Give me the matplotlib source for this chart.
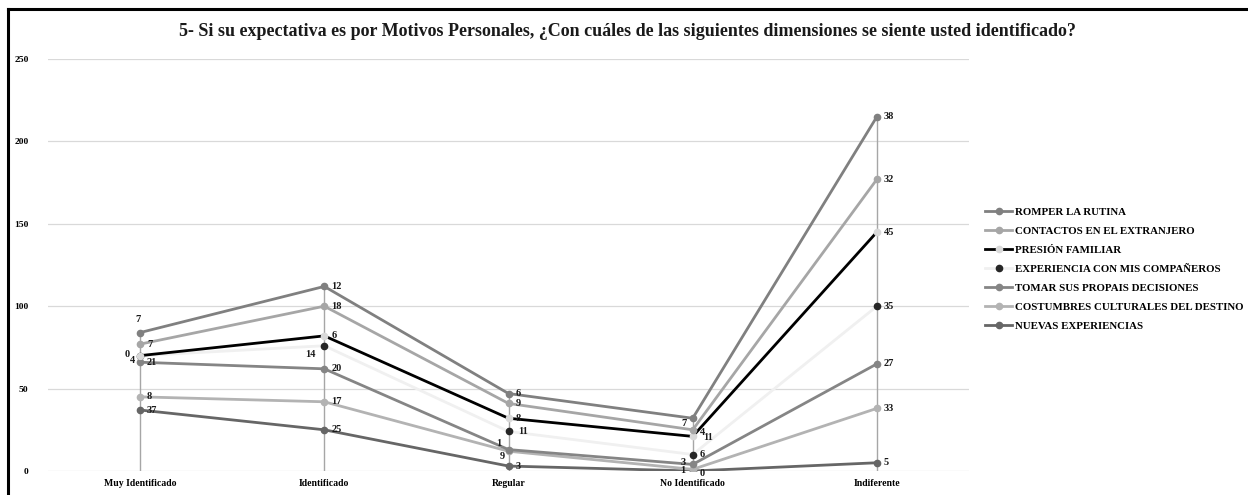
import numpy as np
import matplotlib
matplotlib.use("Agg")
import matplotlib.pyplot as plt
from matplotlib.lines import Line2D

plt.rcParams['font.family'] = ['Liberation Serif', 'DejaVu Serif']
plt.rcParams['font.weight'] = 'bold'

categories = ["Muy Identificado", "Identificado", "Regular", "No Identificado", "Indiferente"]

# stacked order: bottom first
nuevas      = [37, 25, 3, 0, 5]
costumbres  = [8, 17, 9, 1, 33]
tomar       = [21, 20, 1, 3, 27]
experiencia = [4, 14, 11, 6, 35]
presion     = [0, 6, 8, 11, 45]
contactos   = [7, 18, 9, 4, 32]
romper      = [7, 12, 6, 7, 38]

names = ["NUEVAS EXPERIENCIAS", "COSTUMBRES CULTURALES DEL DESTINO",
         "TOMAR SUS PROPAIS DECISIONES", "EXPERIENCIA CON MIS COMPAÑEROS",
         "PRESIÓN FAMILIAR", "CONTACTOS EN EL EXTRANJERO", "ROMPER LA RUTINA"]
series = [nuevas, costumbres, tomar, experiencia, presion, contactos, romper]

title = "5- Si su expectativa es por Motivos Personales, ¿Con cuáles de las siguientes dimensiones se siente usted identificado?"

# styles (line color, marker color)
styles = {
    "ROMPER LA RUTINA": ("#808080", "#808080"),
    "CONTACTOS EN EL EXTRANJERO": ("#a6a6a6", "#a6a6a6"),
    "PRESIÓN FAMILIAR": ("#000000", "#d9d9d9"),
    "EXPERIENCIA CON MIS COMPAÑEROS": ("#f0f0f0", "#262626"),
    "TOMAR SUS PROPAIS DECISIONES": ("#858585", "#858585"),
    "COSTUMBRES CULTURALES DEL DESTINO": ("#b3b3b3", "#b3b3b3"),
    "NUEVAS EXPERIENCIAS": ("#666666", "#666666"),
}

# label offsets in pixels (series index, category index) -> (dx, dy, ha)
default_off = (7, 0, 'left')
label_off = {
    (6, 0): (-2, 13, 'center'),
    (4, 0): (-10, 1, 'right'),
    (3, 0): (-5, -5, 'right'),
    (3, 1): (-9, -9, 'right'),
    (2, 2): (-7, 6, 'right'),
    (1, 2): (-4, -5, 'right'),
    (6, 3): (-6, -5, 'right'),
    (5, 3): (7, -3, 'left'),
    (4, 3): (10, -1, 'left'),
    (2, 3): (-7, 2, 'right'),
    (1, 3): (-7, -1, 'right'),
    (0, 3): (7, -2, 'left'),
    (3, 2): (10, 0, 'left'),
}

W, H = 1248, 495
fig = plt.figure(figsize=(W / 100, H / 100), dpi=100)
ax = fig.add_axes([48 / W, 1 - 471 / H, (969 - 48) / W, (471 - 59) / H])

x = np.arange(len(categories))
cum = np.cumsum(np.array(series), axis=0)

# drop lines
ax.vlines(x, 0, cum.max(axis=0), color="#a6a6a6", lw=1.0, zorder=1)

handles = {}
for i, name in enumerate(names):
    lc, mc = styles[name]
    ln, = ax.plot(x, cum[i], color=lc, lw=2.0, marker='o', markersize=4.5,
                  markerfacecolor=mc, markeredgecolor=mc, zorder=3 + i)
    handles[name] = ln
    for j in range(len(categories)):
        dx, dy, ha = label_off.get((i, j), default_off)
        ax.annotate(str(series[i][j]), (x[j], cum[i][j]), xytext=(dx, dy),
                    textcoords='offset pixels', ha=ha, va='center',
                    fontsize=7.5, fontweight='bold', color='#1a1a1a', zorder=20)

ax.set_xlim(-0.5, len(categories) - 0.5)
ax.set_ylim(0, 250)
ax.set_yticks(np.arange(0, 251, 50))
ax.set_xticks(x)
ax.set_xticklabels(categories, fontsize=7, fontweight='bold')
ax.tick_params(axis='y', labelsize=6.8, length=0, pad=14)
ax.tick_params(axis='x', length=0, pad=6)
ax.grid(axis='y', color="#d9d9d9", lw=0.9)
ax.set_axisbelow(True)
for s in ax.spines.values():
    s.set_visible(False)

legend_order = ["ROMPER LA RUTINA", "CONTACTOS EN EL EXTRANJERO", "PRESIÓN FAMILIAR",
                "EXPERIENCIA CON MIS COMPAÑEROS", "TOMAR SUS PROPAIS DECISIONES",
                "COSTUMBRES CULTURALES DEL DESTINO", "NUEVAS EXPERIENCIAS"]
leg = fig.legend([handles[n] for n in legend_order], legend_order,
                 loc='upper left', bbox_to_anchor=(985 / W, 1 - 207 / H),
                 frameon=False, fontsize=7.8, handlelength=2.5, handletextpad=0.3,
                 labelspacing=0.88, borderpad=0, borderaxespad=0)
for t in leg.get_texts():
    t.set_fontweight('bold')

fig.text(0.503, 1 - 31 / H, title, ha='center', va='center', fontsize=13,
         fontweight='bold', color='#1a1a1a')

# frame (only left and top visible in crop)
fig.add_artist(Line2D([8 / W, 8 / W], [1 - 9 / H, -0.1], transform=fig.transFigure,
                      color='black', lw=2.2))
fig.add_artist(Line2D([8 / W, 1.1], [1 - 9 / H, 1 - 9 / H], transform=fig.transFigure,
                      color='black', lw=2.2))

fig.savefig("out.png", dpi=100)
